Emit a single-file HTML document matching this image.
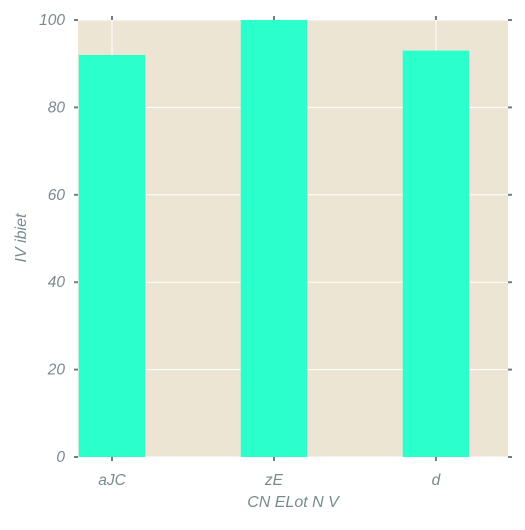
<!DOCTYPE html>
<html><head><meta charset="utf-8"><style>
body{margin:0;background:#fff;}
svg text{font-family:"Liberation Sans",sans-serif;font-style:italic;fill:#7a8a90;}
</style></head><body>
<svg width="525" height="525" id="chart">
<rect x="78" y="20" width="430" height="437" fill="#ede5d4"/>
<g id="grid"></g><g id="bars"></g><g id="axes"></g>
<text x="293" y="507" font-size="16" text-anchor="middle">CN ELot N V</text>
<text x="26" y="238" font-size="16" text-anchor="middle" transform="rotate(-90 26 238)">IV  ibiet</text>
</svg>
<script>
const categories=["aJC","zE","d"];
const values=[92,100,93];
const yTicks=[0,20,40,60,80,100];
const NS="http://www.w3.org/2000/svg";
const L=78,R=508,T=20,B=457;
const xmin=-0.21,xmax=2.445;
function x(v){return L+(v-xmin)/(xmax-xmin)*(R-L);}
function y(v){return B-v/100*(B-T);}
function mk(tag,attrs,parent){const e=document.createElementNS(NS,tag);for(const k in attrs)e.setAttribute(k,attrs[k]);document.getElementById(parent).appendChild(e);return e;}
yTicks.forEach(t=>{
 const g=mk('line',{x1:L,x2:R,y1:y(t),y2:y(t),stroke:'#fff','stroke-width':1},'grid');
 
 
 const tk=mk('line',{x1:L-4,x2:L,y1:y(t),y2:y(t),stroke:'#6f7e84','stroke-width':2},'axes');
 
 
 const tr=mk('line',{x1:R,x2:R+4,y1:y(t),y2:y(t),stroke:'#6f7e84','stroke-width':2},'axes');
 
 
 const lb=mk('text',{x:L-13,y:y(t)+5,'font-size':15.5,'text-anchor':'end'},'axes');
 lb.textContent=t;
 
 
});
categories.forEach((c,i)=>{
 const cx=x(i);
 const g=mk('line',{x1:cx,x2:cx,y1:T,y2:B,stroke:'#fff','stroke-width':1},'grid');
 
 
 const w=x(0.41)-x(0);
 const b=mk('rect',{x:cx-w/2,y:y(values[i]),width:w,height:B-y(values[i]),fill:'#2bffcc'},'bars');
 
 
 const tk=mk('line',{x1:cx,x2:cx,y1:B,y2:B+4,stroke:'#6f7e84','stroke-width':2},'axes');
 
 
 const tt=mk('line',{x1:cx,x2:cx,y1:T-4,y2:T,stroke:'#6f7e84','stroke-width':2},'axes');
 
 
 const lb=mk('text',{x:cx,y:485,'font-size':15.5,'text-anchor':'middle'},'axes');
 lb.textContent=c;
 
 
});
</script>
</body></html>
